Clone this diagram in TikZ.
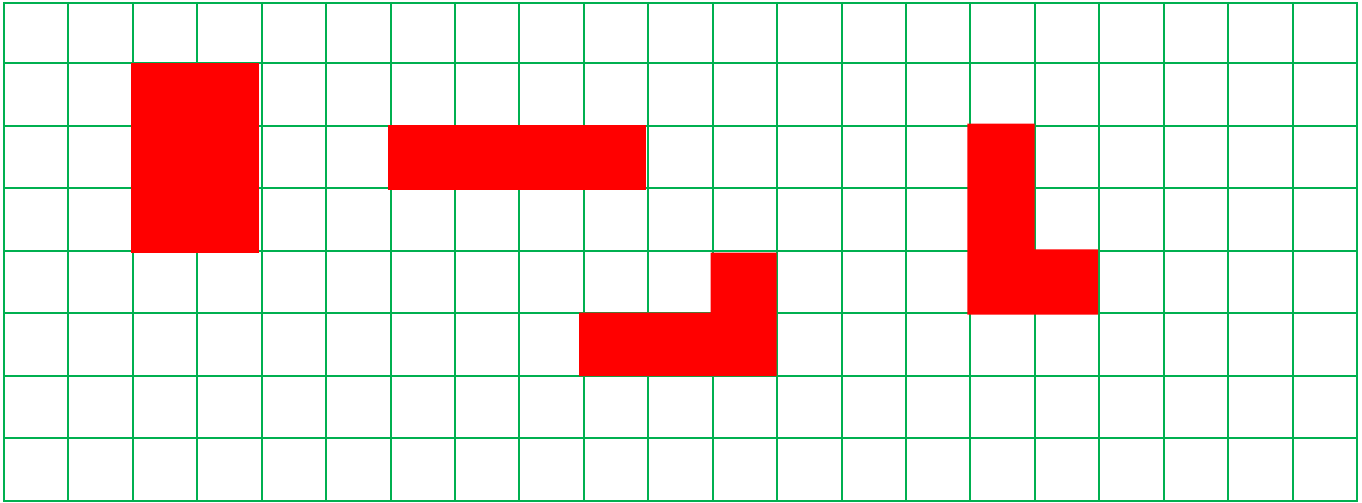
\documentclass[tikz,border=0pt]{standalone}
\definecolor{gridgreen}{RGB}{0,176,80}
\definecolor{shapered}{RGB}{255,0,0}
\tikzset{
  gridline/.style={draw=gridgreen, line width=2pt},
  redshape/.style={fill=shapered, draw=none}
}
\begin{document}
\begin{tikzpicture}[x=1pt,y=-1pt]
\useasboundingbox (0,0) rectangle (1362,503);
% vertical lines
\foreach \i in {0,...,21} {
  \draw[gridline] ({4+64.43*\i},2) -- ({4+64.43*\i},502);
}
% horizontal lines
\draw[gridline] (3,3) -- (1358,3);
\foreach \j in {1,...,8} {
  \draw[gridline] (3,{63+62.57*(\j-1)}) -- (1358,{63+62.57*(\j-1)});
}
% red shapes
\fill[redshape] (130.7,62.7) rectangle (258.7,252.7);
\fill[redshape] (387.7,125) rectangle (645.7,190);
\fill[redshape] (710.5,252.7) -- (776.7,252.7) -- (776.7,376) -- (579,376) -- (579,312.5) -- (710.5,312.5) -- cycle;
\fill[redshape] (967.3,123.7) -- (1034.7,123.7) -- (1034.7,249.3) -- (1098,249.3) -- (1098,314.7) -- (967.3,314.7) -- cycle;
\end{tikzpicture}
\end{document}
